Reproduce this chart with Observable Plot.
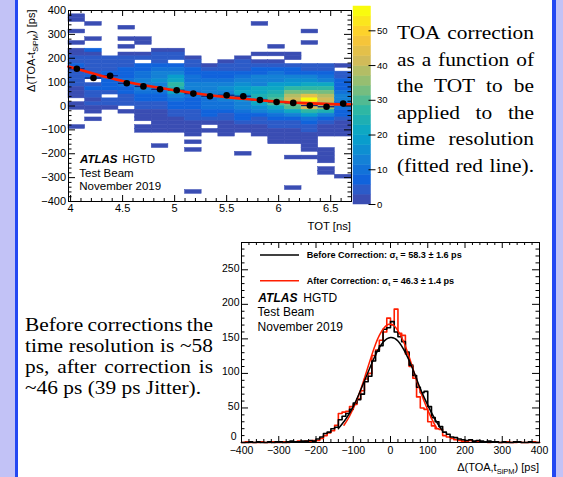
<!DOCTYPE html>
<html>
<head>
<meta charset="utf-8">
<script src="https://cdn.jsdelivr.net/npm/d3@7"></script>
<script src="https://cdn.jsdelivr.net/npm/@observablehq/plot@0.6"></script>
<style>
html,body{margin:0;padding:0;background:#fff;overflow:hidden;}
#page{position:relative;width:563px;height:477px;overflow:hidden;background:#fff;}
#page > svg{position:absolute;left:0;top:0;}
.strip{position:absolute;top:0;height:477px;}
</style>
</head>
<body>
<div id="page">
  <div class="strip" style="left:0;width:15px;background:#c2c2f6"></div>
  <div class="strip" style="left:15px;width:2.5px;background:#2448f2"></div>
  <div class="strip" style="left:552px;width:4px;background:#2448f2"></div>
  <div class="strip" style="left:556px;width:7px;background:#c2c2f6"></div>
</div>
<script>
// ================= DATA =================
// --- Top: TOA vs TOT 2D histogram ---
const totEdges = [3.98,4.14,4.30,4.46,4.62,4.78,4.94,5.10,5.26,5.42,5.58,5.74,5.90,6.06,6.22,6.38,6.54,6.70];
const toaTopRow = 384;   // lower edge of top row (ps)
const toaBin = 16;       // row height (ps)
// counts[k] = TOT bin k, rows from top (384..400 ps) down to bottom (-400..-384 ps)
const counts = [
 [0,1,1,0,0,1,0,0,1,0, 2,2,3,3,6,4,5,5,3,3, 2,2,1,0,2,2,0,0,0,0, 1,0,0,0,0,0,0,0,0,0, 0,0,0,0,0,0,0,0,0,0],
 [0,0,0,1,0,0,0,1,0,0, 8,2,3,3,4,3,4,6,0,5, 8,3,3,2,3,2,1,0,1,0, 0,0,0,0,0,0,0,0,0,0, 0,0,0,0,0,0,0,0,0,0],
 [0,0,0,0,0,0,0,0,0,0, 0,0,3,3,4,4,6,7,8,8, 6,5,0,4,3,2,0,0,0,0, 0,0,0,0,0,0,0,0,0,0, 0,0,0,0,0,0,0,0,0,0],
 [0,0,0,0,1,0,0,1,0,1, 0,2,3,4,5,6,8,8,10,10, 8,7,5,4,3,0,1,0,0,0, 0,0,0,0,0,0,0,0,0,0, 0,0,0,0,0,0,0,0,0,0],
 [0,0,0,0,0,0,0,1,1,0, 0,2,3,0,6,8,9,10,12,12, 14,10,8,6,5,3,2,1,1,0, 1,1,0,0,0,0,0,0,0,0, 0,0,0,0,0,0,0,0,0,0],
 [0,0,0,0,0,0,0,0,0,0, 2,3,4,5,8,10,12,14,16,14, 12,10,8,6,5,3,2,2,1,1, 1,1,0,0,0,1,0,0,0,0, 0,0,0,0,0,0,0,0,0,0],
 [0,0,0,0,0,0,0,0,0,0, 2,3,3,0,6,10,14,18,22,26, 24,20,14,10,8,6,4,3,2,2, 1,1,0,0,0,0,0,0,0,0, 0,0,0,0,0,0,0,0,0,0],
 [0,0,0,0,0,0,0,0,0,0, 0,0,2,3,4,6,8,10,10,12, 12,10,10,8,8,6,4,3,3,2, 2,1,1,0,1,0,1,0,0,0, 0,0,0,0,0,0,0,1,0,0],
 [0,0,0,0,0,0,0,0,0,0, 0,0,0,0,2,4,6,8,10,12, 14,14,12,10,10,10,8,6,4,2, 0,2,0,0,0,0,0,0,0,0, 0,0,0,0,0,0,0,0,0,0],
 [0,0,0,0,0,0,0,0,0,0, 0,0,0,2,3,4,6,8,10,12, 16,14,12,12,10,10,8,5,3,2, 2,2,1,0,0,0,0,0,0,0, 0,0,0,0,0,0,0,0,0,0],
 [0,0,0,0,0,0,0,0,0,0, 0,0,2,3,4,5,8,10,14,16, 18,20,18,16,14,12,10,8,6,3, 2,2,0,0,0,0,0,1,0,0, 0,0,0,0,0,0,0,0,0,0],
 [0,0,0,1,0,0,0,0,0,0, 0,1,0,1,4,6,8,12,14,14, 20,22,24,22,20,16,12,8,5,3, 2,2,1,0,0,0,0,0,0,0, 0,0,0,0,0,0,0,0,0,0],
 [0,0,0,0,0,0,0,0,0,1, 0,1,0,1,4,6,10,12,14,18, 22,24,28,30,30,22,16,10,6,4, 3,2,2,1,1,0,0,0,0,0, 0,0,0,0,0,0,0,0,0,0],
 [0,0,0,0,0,0,0,0,0,0, 0,1,1,0,4,6,8,12,16,18, 26,32,38,40,34,30,22,14,8,5, 3,2,2,2,1,0,0,0,1,0, 0,0,0,0,0,0,1,0,0,0],
 [0,0,0,0,0,1,0,0,1,0, 0,0,0,0,3,5,8,12,16,20, 26,34,44,57,46,42,28,18,10,6, 4,3,2,2,2,2,1,0,1,0, 0,0,0,0,0,0,0,0,0,0],
 [0,0,0,0,0,0,0,0,0,0, 0,0,0,0,3,5,8,10,14,20, 28,34,38,40,38,36,24,14,8,4, 2,2,1,0,0,0,1,1,1,1, 0,1,1,0,0,0,0,0,0,0],
 [0,0,0,0,0,0,0,0,0,0, 0,0,0,0,2,0,4,5,6,6, 8,10,12,12,10,10,8,6,4,2, 2,1,1,0,0,0,0,0,0,0, 0,0,0,1,0,0,0,0,0,0]
];
const profileMean = [156,117,127,95,82,70,66,52,41,45,41,25,17,13,2,-3,10];
const fitTOT  = [3.98,4.25,4.5,4.75,5.0,5.25,5.5,5.75,6.0,6.25,6.5,6.7];
const fitCorr = [165,132,105,84,66,50,37,27,18,12,8,7];
const colorMax = 57;
const colorLevels = 20;
const colorTicks = [0,10,20,30,40,50];
const colorTickLabels = ["0","10","20","30","40","50"];
const xTicksTop = [4,4.5,5,5.5,6,6.5];
const xTickLabelsTop = ["4","4.5","5","5.5","6","6.5"];
const yTicksTop = [-400,-300,-200,-100,0,100,200,300,400];
const yTickLabelsTop = ["\u2212400","\u2212300","\u2212200","\u2212100","0","100","200","300","400"];

// --- Bottom: Delta(TOA, t_SiPM) histograms, 10 ps bins from -400 to 400 ---
const histStart = -400, histBin = 10;
const beforeCounts = [
 0,0,1,0,1,0,0,1,0,1, 1,0,1,2,1,1,2,2,3,2,
 5,8,13,15,20,22,33,38,42,48,
 57,62,70,88,96,118,132,140,164,166,
 175,160,153,146,131,112,97,80,72,74,
 52,36,30,23,15,12,8,7,5,4,
 3,4,2,3,2,1,2,1,1,0, 1,0,0,1,1,0,0,1,0,0
];
const afterCounts = [
 0,1,0,0,0,1,0,0,1,0, 0,1,0,1,1,2,1,2,2,3,
 3,6,10,14,17,25,42,44,45,52,
 55,63,75,92,100,126,134,148,160,180,
 170,193,158,155,128,110,93,66,50,48,
 30,24,20,19,10,8,6,4,3,2,
 2,3,1,2,1,1,0,1,1,0, 0,1,0,0,1,0,0,0,1,0
];
const beforeFitX = [-140,-120,-100,-80,-60,-40,-20,0,20,40,60,80,100,120,138];
const beforeFitY = [20,34,52,76,102,127,145,152,147,130,106,78,54,33,18];
const afterFitX  = [-125,-110,-90,-70,-50,-30,-10,0,10,30,50,70,90,110,125];
const afterFitY  = [25,38,62,93,127,155,170,171,169,152,124,90,60,35,20];
const yMaxBottom = 289.5;
const xTicksBot = [-400,-300,-200,-100,0,100,200,300,400];
const xTickLabelsBot = ["\u2212400","\u2212300","\u2212200","\u2212100","0","100","200","300","400"];
const yTicksBot = [0,50,100,150,200,250];
const yTickLabelsBot = ["0","50","100","150","200","250"];

// ================= DRAWING =================
const W = 563, H = 477;
const page = document.getElementById("page");
const FONT = "Liberation Sans, Arial, Helvetica, sans-serif";
const RED = "#ff1e00";

// ROOT kBird-like palette, stepped into levels
const bird = ["#352A87","#0F5CDD","#1481D6","#06A4CA","#2EB7A4","#87BF77","#D1BB59","#FEC832","#F9FB0E"];
const pw = d3.piecewise(d3.interpolateRgb, bird);
const levelColors = d3.range(colorLevels).map(k => pw(Math.min(1, (k + 0.99) / colorLevels)));
levelColors[0] = "#3a4db3";
levelColors[1] = "#2c5bc8";
const step = colorMax / colorLevels;
const colorOpts = {type: "threshold", domain: d3.range(1, colorLevels).map(k => k * step), range: levelColors};

const cells = [];
counts.forEach((col, k) => col.forEach((c, i) => {
  if (c > 0) cells.push({x1: totEdges[k], x2: totEdges[k + 1], y1: toaTopRow - toaBin * i, y2: toaTopRow - toaBin * i + toaBin, count: c});
}));
const profile = profileMean.map((m, k) => ({lo: totEdges[k], hi: totEdges[k + 1], x: (totEdges[k] + totEdges[k + 1]) / 2, mean: m}));
const fitPts = fitTOT.map((t, i) => ({x: t, y: fitCorr[i]}));

const notIn = arr => d => !arr.some(a => Math.abs(a - d) < 1e-9);
const xMinorTop = d3.range(40, 68).map(d => d / 10).filter(notIn(xTicksTop));
const yMinorTop = d3.range(-400, 401, 20).filter(notIn(yTicksTop));

// top frame geometry
const tL = 68, tR = 351, tT = 10, tB = 201;
const tFW = tR - tL, tFH = tB - tT;

const topPlot = Plot.plot({
  width: W, height: H,
  marginLeft: tL, marginRight: W - tR, marginTop: tT, marginBottom: H - tB,
  x: {domain: [totEdges[0], totEdges[totEdges.length - 1]], axis: null},
  y: {domain: [-400, 400], axis: null},
  color: colorOpts,
  style: {background: "transparent", fontFamily: FONT, color: "#000", overflow: "visible"},
  marks: [
    Plot.rect(cells, {x1: "x1", x2: "x2", y1: "y1", y2: "y2", fill: "count", stroke: "count", strokeWidth: 0.5, inset: 0}),
    Plot.ruleY(profile, {x1: "lo", x2: "hi", y: "mean", stroke: "#16237a", strokeWidth: 1.3}),
    Plot.line(fitPts, {x: "x", y: "y", stroke: RED, strokeWidth: 2.6, curve: "natural"}),
    Plot.dot(profile, {x: "x", y: "mean", r: 3.3, fill: "#000", stroke: "none"}),
    Plot.frame({stroke: "#000", strokeWidth: 1}),
    Plot.ruleX(xTicksTop, {x: d => d, insetTop: tFH - 6, stroke: "#000"}),
    Plot.ruleX(xTicksTop, {x: d => d, insetBottom: tFH - 6, stroke: "#000"}),
    Plot.ruleX(xMinorTop, {x: d => d, insetTop: tFH - 3, stroke: "#000"}),
    Plot.ruleX(xMinorTop, {x: d => d, insetBottom: tFH - 3, stroke: "#000"}),
    Plot.ruleY(yTicksTop, {y: d => d, insetRight: tFW - 7, stroke: "#000"}),
    Plot.ruleY(yTicksTop, {y: d => d, insetLeft: tFW - 7, stroke: "#000"}),
    Plot.ruleY(yMinorTop, {y: d => d, insetRight: tFW - 3.5, stroke: "#000"}),
    Plot.ruleY(yMinorTop, {y: d => d, insetLeft: tFW - 3.5, stroke: "#000"}),
    Plot.text(xTicksTop, {x: d => d, text: (d, i) => xTickLabelsTop[i], frameAnchor: "bottom", lineAnchor: "top", dy: 2.5, fontSize: 11, fill: "#000"}),
    Plot.text(yTicksTop, {y: d => d, text: (d, i) => yTickLabelsTop[i], frameAnchor: "left", textAnchor: "end", dx: -2.5, fontSize: 11, fill: "#000"})
  ]
});
page.appendChild(topPlot);

// colour bar
const cbL = 353, cbR = 370.5, cbT = 6, cbB = 204;
const cbar = Plot.plot({
  width: W, height: H,
  marginLeft: cbL, marginRight: W - cbR, marginTop: cbT, marginBottom: H - cbB,
  x: {domain: [0, 1], axis: null},
  y: {domain: [0, colorMax], axis: null},
  color: colorOpts,
  style: {background: "transparent", fontFamily: FONT, color: "#000", overflow: "visible"},
  marks: [
    Plot.rect(d3.range(colorLevels), {x1: () => 0, x2: () => 1, y1: k => k * step, y2: k => (k + 1) * step, fill: k => (k + 0.5) * step, stroke: k => (k + 0.5) * step, strokeWidth: 0.5, inset: 0}),
    Plot.ruleY(colorTicks, {y: d => d, insetLeft: (cbR - cbL) - 2, insetRight: -5, stroke: "#000"}),
    Plot.text(colorTicks, {y: d => d, text: (d, i) => colorTickLabels[i], frameAnchor: "right", textAnchor: "start", dx: 6, fontSize: 9.5, fill: "#000"})
  ]
});
page.appendChild(cbar);

// bottom histogram
const bL = 241, bR = 539, bT = 242, bB = 442;
const bFW = bR - bL, bFH = bB - bT;
const stepPts = vals => vals.map((v, i) => ({x: histStart + histBin * i, y: v})).concat([{x: histStart + histBin * vals.length, y: vals[vals.length - 1]}]);
const xMinorBot = d3.range(-400, 401, 20).filter(notIn(xTicksBot));
const yMinorBot = d3.range(0, yMaxBottom, 10).filter(notIn(yTicksBot));
const yLabBotIdx = d3.range(1, yTicksBot.length);
const botPlot = Plot.plot({
  width: W, height: H,
  marginLeft: bL, marginRight: W - bR, marginTop: bT, marginBottom: H - bB,
  x: {domain: [-400, 400], axis: null},
  y: {domain: [0, yMaxBottom], axis: null},
  style: {background: "transparent", fontFamily: FONT, color: "#000", overflow: "visible"},
  marks: [
    Plot.line(stepPts(afterCounts), {x: "x", y: "y", stroke: RED, strokeWidth: 1.6, curve: "step-after"}),
    Plot.line(stepPts(beforeCounts), {x: "x", y: "y", stroke: "#000", strokeWidth: 1.6, curve: "step-after"}),
    Plot.line(afterFitX.map((x, i) => ({x, y: afterFitY[i]})), {x: "x", y: "y", stroke: RED, strokeWidth: 1.5, curve: "natural"}),
    Plot.line(beforeFitX.map((x, i) => ({x, y: beforeFitY[i]})), {x: "x", y: "y", stroke: "#000", strokeWidth: 1.5, curve: "natural"}),
    Plot.frame({stroke: "#000", strokeWidth: 1}),
    Plot.ruleX(xTicksBot, {x: d => d, insetTop: bFH - 6, stroke: "#000"}),
    Plot.ruleX(xTicksBot, {x: d => d, insetBottom: bFH - 6, stroke: "#000"}),
    Plot.ruleX(xMinorBot, {x: d => d, insetTop: bFH - 3, stroke: "#000"}),
    Plot.ruleX(xMinorBot, {x: d => d, insetBottom: bFH - 3, stroke: "#000"}),
    Plot.ruleY(yTicksBot, {y: d => d, insetRight: bFW - 7, stroke: "#000"}),
    Plot.ruleY(yTicksBot, {y: d => d, insetLeft: bFW - 7, stroke: "#000"}),
    Plot.ruleY(yMinorBot, {y: d => d, insetRight: bFW - 3.5, stroke: "#000"}),
    Plot.ruleY(yMinorBot, {y: d => d, insetLeft: bFW - 3.5, stroke: "#000"}),
    Plot.text(xTicksBot, {x: d => d, text: (d, i) => xTickLabelsBot[i], frameAnchor: "bottom", lineAnchor: "top", dy: 4, fontSize: 10.5, fill: "#000"}),
    Plot.text(yLabBotIdx, {y: i => yTicksBot[i], text: i => yTickLabelsBot[i], frameAnchor: "left", textAnchor: "end", dx: -2, dy: -1.5, fontSize: 10.5, fill: "#000"}),
    Plot.text([0], {y: i => yTicksBot[i], text: i => yTickLabelsBot[i], frameAnchor: "left", textAnchor: "end", dx: -5, dy: -5.5, fontSize: 10.5, fill: "#000"})
  ]
});
page.appendChild(botPlot);

// ================= ANNOTATIONS (text) =================
const ann = d3.select(page).append("svg")
  .attr("width", W).attr("height", H)
  .style("position", "absolute").style("left", 0).style("top", 0)
  .attr("font-family", FONT).attr("fill", "#000");

function atlas(x, y, fs, dx, lines) {
  const t = ann.append("text").attr("x", x).attr("y", y).attr("font-size", fs);
  t.append("tspan").attr("font-weight", "bold").attr("font-style", "italic").text("ATLAS");
  t.append("tspan").attr("dx", dx).text(" HGTD");
  lines.forEach((s, i) => ann.append("text").attr("x", x - 0.7).attr("y", y + (i + 1) * (fs * 1.2)).attr("font-size", fs).text(s));
}
atlas(80, 162.8, 11.5, 1.8, ["Test Beam", "November 2019"]);
atlas(258.3, 301.8, 12, 2.5, ["Test Beam", "November 2019"]);

// axis titles
function subTitle(sel, main, sub, tail, fs) {
  sel.append("tspan").text(main);
  sel.append("tspan").attr("dy", fs * 0.28).attr("font-size", fs * 0.68).text(sub);
  sel.append("tspan").attr("dy", -fs * 0.28).text(tail);
}
ann.append("text").attr("x", tR).attr("y", 230).attr("font-size", 11.3).attr("text-anchor", "end").text("TOT [ns]");
subTitle(ann.append("text").attr("transform", `translate(31,9.5) rotate(-90)`).attr("y", 4).attr("font-size", 11).attr("text-anchor", "end"),
  "\u0394(TOA-t", "SiPM", ") [ps]", 11);
subTitle(ann.append("text").attr("x", bR).attr("y", 470.5).attr("font-size", 11).attr("text-anchor", "end"),
  "\u0394(TOA,t", "SiPM", ") [ps]", 11);

// legend of bottom plot
function legendEntry(y, color, pre, post) {
  ann.append("line").attr("x1", 260).attr("x2", 299).attr("y1", y).attr("y2", y).attr("stroke", color).attr("stroke-width", 1.5);
  const t = ann.append("text").attr("x", 306.7).attr("y", y + 3.2).attr("font-size", 9.1).attr("font-weight", "bold");
  t.append("tspan").text(pre);
  t.append("tspan").attr("dy", 2).attr("font-size", 6.2).text("t");
  t.append("tspan").attr("dy", -2).text(post);
}
legendEntry(255, "#000", "Before Correction: \u03c3", " = 58.3 \u00b1 1.6 ps");
legendEntry(280.7, RED, "After Correction: \u03c3", " = 46.3 \u00b1 1.4 ps");

// slide prose (justified)
function prose(lines, x, baselines, width, fs, sx, justify) {
  lines.forEach((s, i) => {
    const g = ann.append("g").attr("transform", `translate(${x},${baselines[i]}) scale(${sx},1)`);
    const t = g.append("text").attr("font-family", "Liberation Serif, Times New Roman, serif").attr("font-size", fs).text(s);
    if (justify[i]) {
      const w = t.node().getComputedTextLength();
      const n = (s.match(/ /g) || []).length;
      if (n > 0) t.style("word-spacing", ((width / sx - w) / n) + "px");
    }
  });
}
prose(["TOA correction", "as a function of", "the TOT to be", "applied to the", "time resolution", "(fitted red line)."],
  397, [39, 65.5, 92, 118.5, 145, 171.5], 137, 18.6, 1.15, [true, true, true, true, true, true]);
prose(["Before corrections the", "time resolution is ~58", "ps, after correction is", "~46 ps (39 ps Jitter)."],
  25, [330.7, 351.9, 373.1, 394.3], 188, 18.6, 1.15, [true, true, true, false]);
</script>
</body>
</html>
